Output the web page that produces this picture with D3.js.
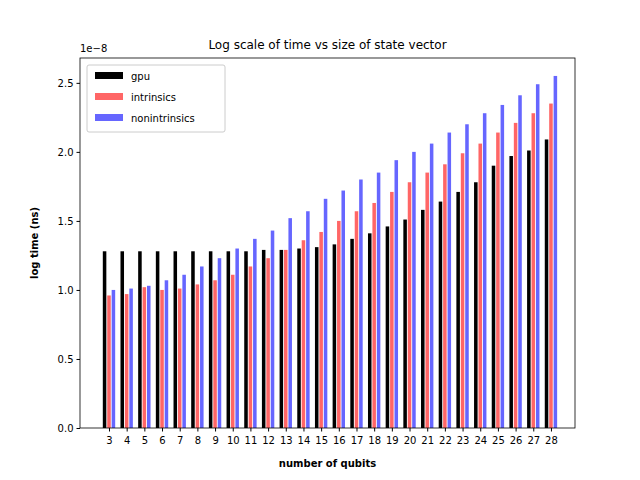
<!DOCTYPE html>
<html><body style="margin:0">
<svg width="640" height="480"></svg>
<script src="https://d3js.org/d3.v7.min.js"></script>
<script>
var qubits = d3.range(3, 29);
var gpu = [1.28,1.28,1.28,1.28,1.28,1.28,1.28,1.28,1.28,1.29,1.29,1.30,1.31,1.33,1.37,1.41,1.46,1.51,1.58,1.64,1.71,1.78,1.90,1.97,2.01,2.09];
var intrinsics = [0.96,0.97,1.02,1.00,1.01,1.04,1.07,1.11,1.17,1.23,1.29,1.36,1.42,1.50,1.57,1.63,1.71,1.78,1.85,1.91,1.99,2.06,2.14,2.21,2.28,2.35];
var nonintrinsics = [1.00,1.01,1.03,1.07,1.11,1.17,1.23,1.30,1.37,1.43,1.52,1.57,1.66,1.72,1.80,1.85,1.94,2.00,2.06,2.14,2.20,2.28,2.34,2.41,2.49,2.55];
var yTicks = [0, 0.5, 1.0, 1.5, 2.0, 2.5];

var series = [
  {name: "gpu", values: gpu, color: "black", off: -0.25},
  {name: "intrinsics", values: intrinsics, color: "#ff6666", off: 0},
  {name: "nonintrinsics", values: nonintrinsics, color: "#6666ff", off: 0.25}
];

var svg = d3.select("svg"),
	pLeft = 80, pRight = 575, pTop = 58, pBottom = 428;

var x = d3.scaleLinear().domain([1.36, 29.36]).range([pLeft, pRight]);
var y = d3.scaleLinear().domain([0, 2.68]).range([pBottom, pTop]);
var bw = x(1.2) - x(1);

series.forEach(function(s) {
	svg.append("g").selectAll("rect")
		.data(s.values)
		.enter().append("rect")
		.attr("x", function(d, i) { return x(qubits[i] + s.off) - bw / 2; })
		.attr("y", function(d) { return y(d); })
		.attr("width", bw)
		.attr("height", function(d) { return pBottom - y(d); })
		.style("fill", s.color);
});

var font = "DejaVu Sans";
svg.append("g").attr("transform", "translate(0," + pBottom + ")")
	.call(d3.axisBottom(x).tickValues(qubits).tickFormat(d3.format("d")).tickSizeOuter(0).tickSize(3.5))
	.call(function(g) { g.select(".domain").remove(); g.selectAll("text").style("font-family", font).style("font-size", "10px").attr("dy", "0.9em"); });
svg.append("g").attr("transform", "translate(" + pLeft + ",0)")
	.call(d3.axisLeft(y).tickValues(yTicks).tickFormat(d3.format(".1f")).tickSize(3.5))
	.call(function(g) { g.select(".domain").remove(); g.selectAll("text").style("font-family", font).style("font-size", "10px"); });

svg.append("rect").attr("x", pLeft).attr("y", pTop).attr("width", pRight - pLeft).attr("height", pBottom - pTop)
	.style("fill", "none").style("stroke", "black").style("stroke-width", 0.8);

svg.append("text").attr("x", pLeft).attr("y", 52).text("1e\u22128")
	.style("font-family", font).style("font-size", "10px");
svg.append("text").attr("x", (pLeft + pRight) / 2).attr("y", 49).attr("text-anchor", "middle")
	.text("Log scale of time vs size of state vector").style("font-family", font).style("font-size", "12px");
svg.append("text").attr("x", (pLeft + pRight) / 2).attr("y", 467).attr("text-anchor", "middle")
	.text("number of qubits").style("font-family", font).style("font-size", "10px").style("font-weight", "bold");
svg.append("text").attr("transform", "translate(38," + (pTop + pBottom) / 2 + ") rotate(-90)").attr("text-anchor", "middle")
	.text("log time (ns)").style("font-family", font).style("font-size", "10px").style("font-weight", "bold");

var lg = svg.append("g").attr("transform", "translate(87,65)");
lg.append("rect").attr("width", 138).attr("height", 67).attr("rx", 2)
	.style("fill", "white").style("fill-opacity", 0.8).style("stroke", "#ccc");
series.forEach(function(s, i) {
	lg.append("rect").attr("x", 8).attr("y", 7 + i * 21).attr("width", 28).attr("height", 7).style("fill", s.color);
	lg.append("text").attr("x", 44).attr("y", 15 + i * 21).text(s.name)
		.style("font-family", font).style("font-size", "10px");
});
</script>
</body></html>
